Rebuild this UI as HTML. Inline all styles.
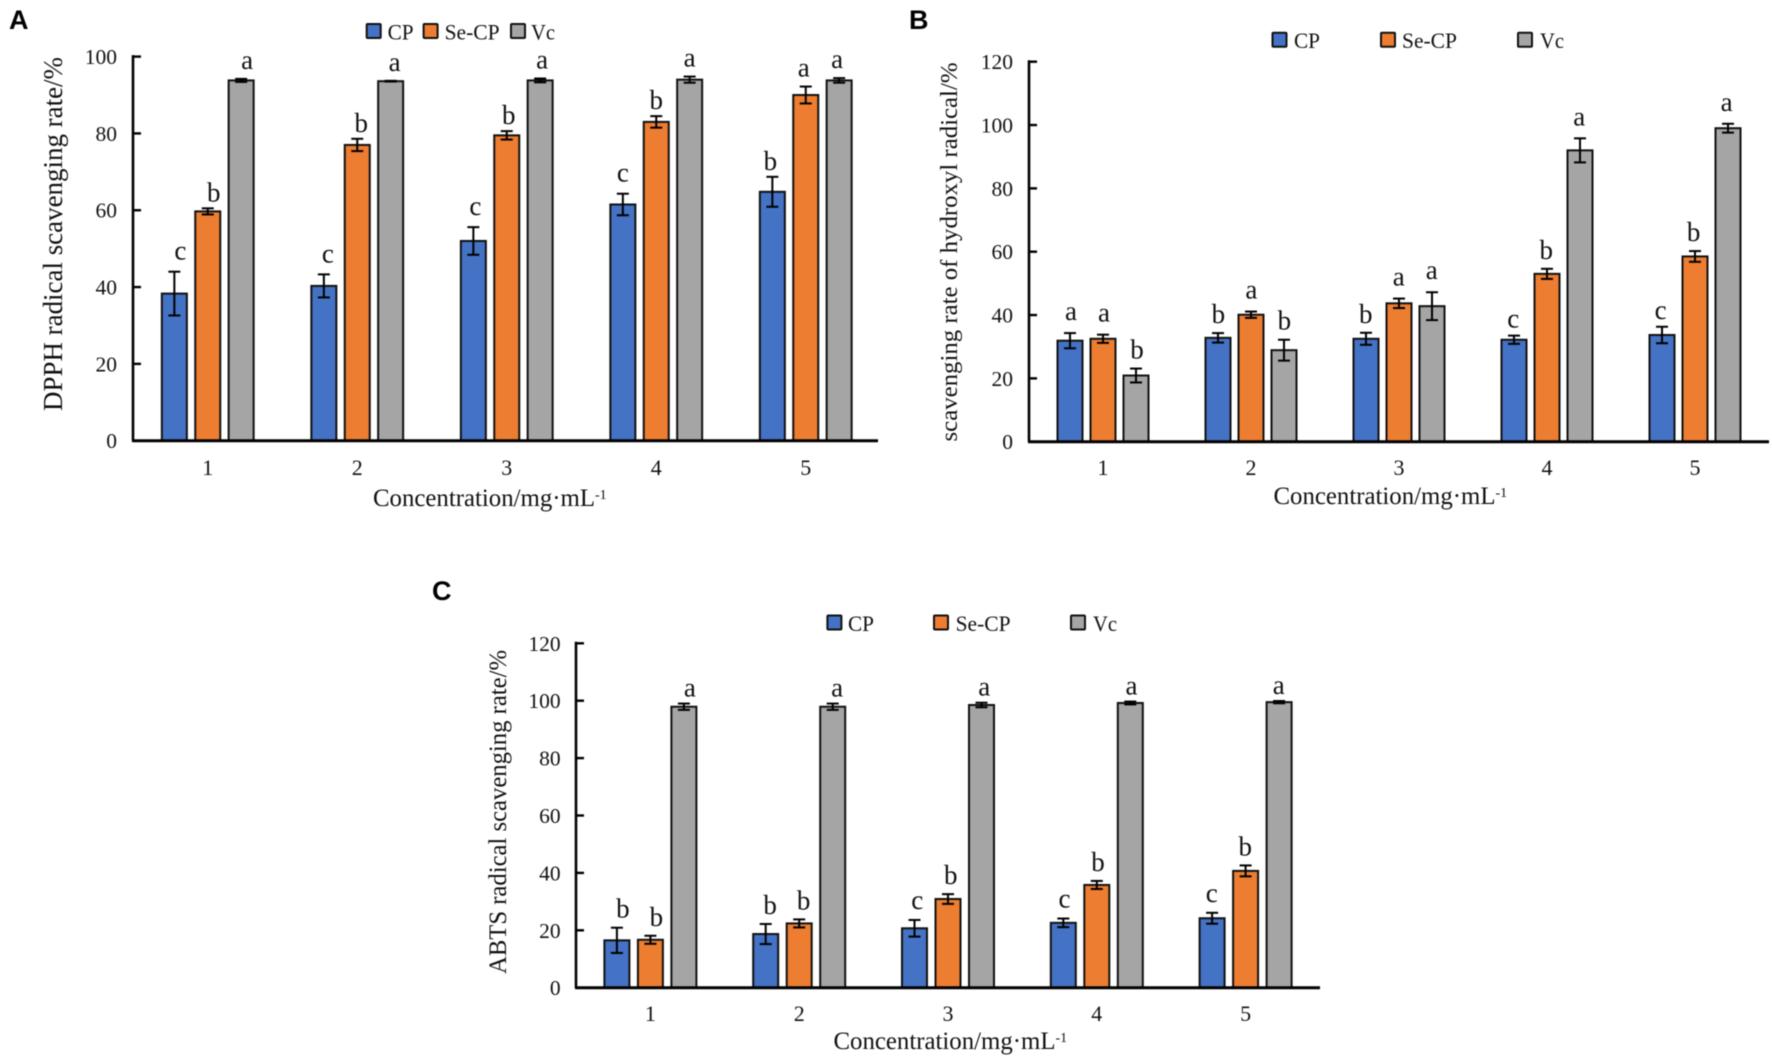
<!DOCTYPE html>
<html lang="en">
<head>
<meta charset="utf-8">
<title>Radical scavenging rate charts</title>
<style>
html,body{margin:0;padding:0;background:#fff;width:1772px;height:1059px;overflow:hidden}
svg{display:block;filter:blur(0.45px)}
text{font-family:"Liberation Serif",serif;fill:#111}
.panel-letter{font-family:"Liberation Sans",sans-serif;font-weight:bold;font-size:27px;fill:#000}
</style>
</head>
<body>
<svg id="figure" xmlns="http://www.w3.org/2000/svg" width="1772" height="1059" viewBox="0 0 1772 1059"></svg>
<script>
// ---- shared labels ----
const categories = ['1', '2', '3', '4', '5'];
const seriesNames = ['CP', 'Se-CP', 'Vc'];

// ---- panel A: DPPH ----
const aTicks = [0, 20, 40, 60, 80, 100];
const aCP = [38.3, 40.3, 52, 61.5, 64.8];
const aSe = [59.7, 77, 79.5, 83, 90];
const aVc = [93.8, 93.6, 93.8, 94, 93.8];
const aCPErr = [5.7, 3, 3.6, 2.8, 3.9];
const aSeErr = [0.8, 1.6, 1.1, 1.5, 2.2];
const aVcErr = [0.4, 0.1, 0.5, 0.8, 0.6];
const aCPLetters = ['c', 'c', 'c', 'c', 'b'];
const aSeLetters = ['b', 'b', 'b', 'b', 'a'];
const aVcLetters = ['a', 'a', 'a', 'a', 'a'];

// ---- panel B: hydroxyl ----
const bTicks = [0, 20, 40, 60, 80, 100, 120];
const bCP = [31.9, 32.8, 32.5, 32.2, 33.7];
const bSe = [32.5, 40.1, 43.7, 53, 58.5];
const bVc = [20.9, 28.9, 42.8, 92, 99];
const bCPErr = [2.4, 1.5, 1.9, 1.3, 2.6];
const bSeErr = [1.3, 1, 1.5, 1.6, 1.7];
const bVcErr = [2.2, 3.3, 4.4, 3.8, 1.4];
const bCPLetters = ['a', 'b', 'b', 'c', 'c'];
const bSeLetters = ['a', 'a', 'a', 'b', 'b'];
const bVcLetters = ['b', 'b', 'a', 'a', 'a'];

// ---- panel C: ABTS ----
const cTicks = [0, 20, 40, 60, 80, 100, 120];
const cCP = [16.5, 18.7, 20.7, 22.6, 24.2];
const cSe = [16.7, 22.4, 30.9, 35.8, 40.7];
const cVc = [97.9, 97.9, 98.5, 99.2, 99.5];
const cCPErr = [4.4, 3.5, 2.9, 1.5, 1.9];
const cSeErr = [1.4, 1.4, 1.7, 1.4, 1.9];
const cVcErr = [1.1, 1.1, 0.8, 0.5, 0.4];
const cCPLetters = ['b', 'b', 'c', 'c', 'c'];
const cSeLetters = ['b', 'b', 'b', 'b', 'b'];
const cVcLetters = ['a', 'a', 'a', 'a', 'a'];

// ---- panels: data references plus layout ----
const colors = ['#4472C4', '#ED7D31', '#A5A5A5'];
const legendTextLengths = { 'CP': 26, 'Se-CP': 55, 'Vc': 24 };
const panels = [
  {
    id: 'a', letter: 'A', letterX: 9, letterY: 29,
    ticks: aTicks, max: 100,
    values: [aCP, aSe, aVc], errors: [aCPErr, aSeErr, aVcErr], letters: [aCPLetters, aSeLetters, aVcLetters],
    x0: 133, width: 747.5, axisEnd: 878, yTop: 56.6, yZero: 440.7, step: 33.4,
    dx: function (i) { return 6 - 2 * i; }, gap: { a: 10, b: 7, c: 12 },
    tickRight: 117, catY: 475,
    xTitle: 'Concentration/mg·mL', xTitleX: 373, xTitleY: 506, xTitleLen: 222, supX: 595, supY: 499,
    yTitle: 'DPPH radical scavenging rate/%', yTitleX: 62, yTitleMid: 234, yTitleLen: 354, yTitleSize: 27.5,
    legendY: 32, legendRects: [365.7, 422.6, 510], legendTexts: [387.6, 444.6, 531]
  },
  {
    id: 'b', letter: 'B', letterX: 909, letterY: 29,
    ticks: bTicks, max: 120,
    values: [bCP, bSe, bVc], errors: [bCPErr, bSeErr, bVcErr], letters: [bCPLetters, bSeLetters, bVcLetters],
    x0: 1029, width: 740, axisEnd: 1769, yTop: 61.7, yZero: 441.7, step: 33,
    dx: function (i) { return 1 - 0.6 * i; }, gap: { a: 13, b: 10, c: 8 },
    tickRight: 1013, catY: 475,
    xTitle: 'Concentration/mg·mL', xTitleX: 1273.5, xTitleY: 504, xTitleLen: 222, supX: 1495.5, supY: 497,
    yTitle: 'scavenging rate of hydroxyl radical/%', yTitleX: 957, yTitleMid: 252, yTitleLen: 379, yTitleSize: 24.5,
    legendY: 40.7, legendRects: [1271.5, 1380, 1517], legendTexts: [1294, 1402, 1540]
  },
  {
    id: 'c', letter: 'C', letterX: 432, letterY: 600,
    ticks: cTicks, max: 120,
    values: [cCP, cSe, cVc], errors: [cCPErr, cSeErr, cVcErr], letters: [cCPLetters, cSeLetters, cVcLetters],
    x0: 576, width: 744, axisEnd: 1320, yTop: 643.3, yZero: 987.7, step: 33.5,
    dx: function (i) { return 6 - 1.6 * i; }, gap: { a: 7, b: 10, c: 11 },
    tickRight: 560.6, catY: 1021,
    xTitle: 'Concentration/mg·mL', xTitleX: 833.5, xTitleY: 1049, xTitleLen: 222, supX: 1055.5, supY: 1042,
    yTitle: 'ABTS radical scavenging rate/%', yTitleX: 506, yTitleMid: 812, yTitleLen: 324, yTitleSize: 25.5,
    legendY: 623.5, legendRects: [826.4, 933, 1070], legendTexts: [848, 955.6, 1093]
  }
];

const NS = 'http://www.w3.org/2000/svg';
const BAR_WIDTH = 25;
const CAP_HALF = 6;

function make(parent, tag, props, content) {
  const el = document.createElementNS(NS, tag);
  for (const key in props) el.setAttribute(key, props[key]);
  if (content !== undefined) el.textContent = content;
  parent.appendChild(el);
  return el;
}

function drawPanel(svg, p) {
  const group = make(svg, 'g', {});
  
  

  const yScale = function (v) { return p.yZero - (v / p.max) * (p.yZero - p.yTop); };
  const band = p.width / categories.length;
  const xScale = function (i, s) { return p.x0 + band * (i + 0.5) + (s - 1) * p.step; };

  const panelLetter = make(group, 'text', { x: p.letterX, y: p.letterY, 'class': 'panel-letter' }, p.letter);
  
  

  // legend
  seriesNames.forEach(function (name, s) {
    const swatch = make(group, 'rect', {
      x: p.legendRects[s] + 1, y: p.legendY - 8, width: 14, height: 14,
      fill: colors[s], stroke: '#111', 'stroke-width': 2, rx: 1
    });
    
    
    const label = make(group, 'text', {
      x: p.legendTexts[s], y: p.legendY + 7.5, 'font-size': 22.5,
      textLength: legendTextLengths[name], lengthAdjust: 'spacingAndGlyphs'
    }, name);
    
    
  });

  // bars
  categories.forEach(function (cat, i) {
    p.values.forEach(function (vals, s) {
      const top = yScale(vals[i]);
      const bar = make(group, 'rect', {
        x: xScale(i, s) - BAR_WIDTH / 2, y: top, width: BAR_WIDTH, height: p.yZero - top,
        fill: colors[s], stroke: '#111', 'stroke-width': 2
      });
      
      
    });
  });

  // axes
  const yAxis = make(group, 'line', { x1: p.x0, x2: p.x0, y1: p.yTop - 1.5, y2: p.yZero, stroke: '#000', 'stroke-width': 2.6 });
  
  
  const xAxis = make(group, 'line', { x1: p.x0 - 1, x2: p.axisEnd, y1: p.yZero, y2: p.yZero, stroke: '#000', 'stroke-width': 3 });
  
  

  p.ticks.forEach(function (t) {
    const y = yScale(t);
    const mark = make(group, 'line', { x1: p.x0, x2: p.x0 + 8, y1: y, y2: y, stroke: '#000', 'stroke-width': 2.4 });
    
    
    const lab = make(group, 'text', { x: p.tickRight, y: y + 7.5, 'font-size': 21.5, 'text-anchor': 'end' }, String(t));
    
    
  });

  categories.forEach(function (cat, i) {
    const lab = make(group, 'text', { x: xScale(i, 1), y: p.catY, 'font-size': 22, 'text-anchor': 'middle' }, cat);
    
    
  });

  // error bars and significance letters
  categories.forEach(function (cat, i) {
    p.values.forEach(function (vals, s) {
      const cx = xScale(i, s);
      const hi = yScale(vals[i] + p.errors[s][i]);
      const lo = yScale(vals[i] - p.errors[s][i]);
      const stem = make(group, 'line', { x1: cx, x2: cx, y1: hi, y2: lo, stroke: '#000', 'stroke-width': 2 });
      
      
      const capTop = make(group, 'line', { x1: cx - CAP_HALF, x2: cx + CAP_HALF, y1: hi, y2: hi, stroke: '#000', 'stroke-width': 2 });
      
      
      const capBottom = make(group, 'line', { x1: cx - CAP_HALF, x2: cx + CAP_HALF, y1: lo, y2: lo, stroke: '#000', 'stroke-width': 2 });
      
      
      const letter = p.letters[s][i];
      const sig = make(group, 'text', {
        x: cx + p.dx(i), y: hi - p.gap[letter], 'font-size': 27, 'text-anchor': 'middle'
      }, letter);
      
      
    });
  });

  // axis titles
  const xTitle = make(group, 'text', {
    x: p.xTitleX, y: p.xTitleY, 'font-size': 25, textLength: p.xTitleLen, lengthAdjust: 'spacingAndGlyphs'
  }, p.xTitle);
  
  
  const xSup = make(group, 'text', { x: p.supX, y: p.supY, 'font-size': 14 }, '-1');
  
  

  const yTitle = make(group, 'text', {
    x: 0, y: 0, 'font-size': p.yTitleSize, 'text-anchor': 'middle', textLength: p.yTitleLen, lengthAdjust: 'spacingAndGlyphs',
    transform: 'translate(' + p.yTitleX + ' ' + p.yTitleMid + ') rotate(-90)'
  }, p.yTitle);
  
  
}

const figure = document.getElementById('figure');
panels.forEach(function (p) { drawPanel(figure, p); });
</script>
</body>
</html>
